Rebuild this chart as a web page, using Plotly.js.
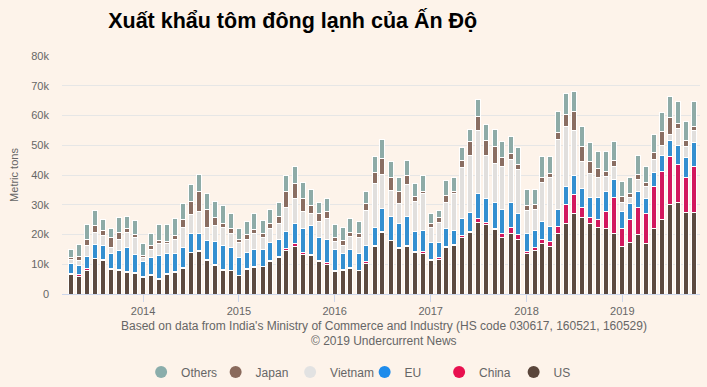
<!DOCTYPE html>
<html>
<head>
<meta charset="utf-8">
<script src="https://cdn.plot.ly/plotly-3.0.1.min.js"></script>
<style>
  html, body { margin: 0; padding: 0; background: #fdf3ea; }
  #chart { width: 707px; height: 387px; }
</style>
</head>
<body>
<div id="chart"></div>
<script>
const months = [
  '2013-04','2013-05','2013-06','2013-07','2013-08','2013-09','2013-10','2013-11','2013-12',
  '2014-01','2014-02','2014-03','2014-04','2014-05','2014-06','2014-07','2014-08','2014-09','2014-10','2014-11','2014-12',
  '2015-01','2015-02','2015-03','2015-04','2015-05','2015-06','2015-07','2015-08','2015-09','2015-10','2015-11','2015-12',
  '2016-01','2016-02','2016-03','2016-04','2016-05','2016-06','2016-07','2016-08','2016-09','2016-10','2016-11','2016-12',
  '2017-01','2017-02','2017-03','2017-04','2017-05','2017-06','2017-07','2017-08','2017-09','2017-10','2017-11','2017-12',
  '2018-01','2018-02','2018-03','2018-04','2018-05','2018-06','2018-07','2018-08','2018-09','2018-10','2018-11','2018-12',
  '2019-01','2019-02','2019-03','2019-04','2019-05','2019-06','2019-07','2019-08','2019-09','2019-10'
];

const us = [6500,5800,7900,11800,11300,8300,8000,7300,7000,5600,
  6200,5000,6500,7100,8600,13900,14300,11300,9600,8000,
  7800,6100,8200,8900,9100,10900,12200,14500,16000,13400,
  12800,10800,10000,7500,7800,8600,7800,10200,16000,20600,
  17900,15400,16000,13900,13700,11100,11700,15600,16200,19000,
  20600,24000,23500,21800,19100,20200,18200,13500,14600,16900,
  16100,20400,23600,27200,25800,23800,22500,21900,20200,16100,
  17200,19900,16900,21900,24900,30100,30700,27300,27300];

const china = [500,700,600,300,200,200,200,200,200,200,
  200,200,300,300,200,200,200,200,200,200,
  200,200,400,200,200,200,500,800,1000,600,
  500,600,600,400,300,200,200,600,200,500,
  200,200,200,500,500,500,500,500,500,500,
  500,1300,500,300,1100,2300,1800,900,1100,1300,
  1700,2300,6400,6200,3200,2000,2400,6000,12400,6000,
  7700,9300,10300,14100,16400,16200,12800,12000,15700];

const eu = [3300,3100,4100,4700,4800,5200,6400,8000,6100,5200,
  6000,7700,6700,6300,6900,6300,5900,6500,7800,8100,
  7700,6100,5400,5900,5700,6100,5600,5800,6600,8100,
  9700,7700,7600,6900,5400,6000,5500,5500,6300,7800,
  8100,8000,10000,6700,7100,5600,5200,6000,4600,6000,
  6400,8600,8200,8800,8200,8100,7200,6000,5600,6200,
  4900,5700,6000,6300,6600,6800,7700,6400,5900,5800,
  5400,5400,4800,5000,5300,5200,6500,6500,7800];

const vietnam = [1200,1600,3700,3900,3300,2000,3600,5200,5700,1400,
  2400,4000,3400,4500,6800,6300,7500,4500,5400,5900,
  4700,5000,4300,5200,4100,4700,5500,8100,8400,5800,
  4000,5300,7100,2800,2800,4500,5600,11800,14600,11300,
  8600,6700,10700,10000,12400,5000,6800,8500,12400,17000,
  19200,20900,14400,13100,14500,14600,14700,7700,7000,13000,
  16300,23500,20400,15400,8800,7800,6700,5300,4200,3000,
  2300,3900,4300,4300,3400,2200,5600,3900,4300];

const japan = [800,1400,1900,2300,1700,3300,2500,1200,1000,700,
  1500,1100,900,1500,2500,4500,6700,5800,2600,1400,
  1500,800,1700,1400,1300,1700,2400,5100,5300,4300,
  2800,2600,2600,1500,1700,1500,1100,2200,3600,5500,
  4300,4300,3000,1700,900,1600,1600,2500,900,2400,
  4400,4800,5100,5700,2900,2000,1600,1500,1700,1900,
  1400,2300,3900,6100,5300,4300,2800,1700,2200,1900,
  1300,1600,1300,2100,4700,5600,1700,2000,1100];

const others = [2500,4000,5100,5000,3900,2900,5100,4100,4700,3800,
  4100,5400,5600,5800,5300,5700,5600,5500,5500,6000,
  5300,3900,4400,5600,4300,4800,4700,5400,5400,5400,
  5400,3900,4300,4200,4500,4700,4300,4300,5400,6200,
  5600,4400,5000,4500,5100,3400,2300,4900,4400,4200,
  4300,5900,5400,5700,5300,5800,5900,5500,5100,7000,
  5900,7000,7100,6800,6500,6100,5700,6500,6200,5100,
  5400,6500,5100,6300,6300,7000,7500,6400,8400];

const seriesNames = ['US','China','EU','Vietnam','Japan','Others'];
const seriesValues = [us, china, eu, vietnam, japan, others];
const barColors = ['#5c4a40','#d2185e','#348fd0','#e1dfdd','#8a6e62','#8eaba7'];
const legendColors = ['#5a463b','#e8104f','#1f8ceb','#e2e2e2','#8a6a5c','#8aadab'];

const font = 'Liberation Sans, Arial, sans-serif';
const traces = [];
seriesNames.forEach((name, i) => {
  traces.push({
    type: 'bar', name: name, x: months.map(m => m + '-01'), y: seriesValues[i],
    marker: { color: barColors[i], line: { color: '#ffffff', width: 1 } },
    showlegend: false, legendgroup: name, hoverinfo: 'x+y+name'
  });
});
seriesNames.forEach((name, i) => {
  traces.push({
    type: 'scatter', mode: 'markers', name: name, x: [null], y: [null],
    marker: { color: legendColors[i], size: 12, symbol: 'circle' },
    legendgroup: name, showlegend: true
  });
});

const layout = {
  width: 707, height: 387,
  paper_bgcolor: '#fdf3ea', plot_bgcolor: '#fdf3ea',
  margin: { l: 62, r: 7, t: 56, b: 93, autoexpand: false },
  barmode: 'stack', bargap: 0.32,
  font: { family: font, color: '#666666', size: 11 },
  title: {
    text: '<b>Xuất khẩu tôm đông lạnh của Ấn Độ</b>',
    font: { family: font, size: 21.5, color: '#000000' },
    x: 0.153, xanchor: 'left', xref: 'container',
    y: 0.948, yanchor: 'middle', yref: 'container'
  },
  xaxis: {
    type: 'date', range: ['2013-02-26', '2019-10-24'],
    tickvals: ['2014-01-01','2015-01-01','2016-01-01','2017-01-01','2018-01-01','2019-01-01'],
    ticktext: ['2014','2015','2016','2017','2018','2019'],
    showgrid: false, showline: true, linecolor: '#ccd6eb', linewidth: 1,
    ticks: 'outside', ticklen: 7, tickcolor: '#ccd6eb',
    tickfont: { size: 11, color: '#666666' }, zeroline: false, fixedrange: true
  },
  yaxis: {
    range: [0, 80000], tickvals: [0,10000,20000,30000,40000,50000,60000,70000,80000],
    ticktext: ['0','10k','20k','30k','40k','50k','60k','70k','80k'],
    showgrid: true, gridcolor: '#e6e6e6', gridwidth: 1, zeroline: false,
    ticklabelstandoff: 12,
    tickfont: { size: 11, color: '#666666' },
    title: { text: 'Metric tons', font: { size: 11, color: '#666666' }, standoff: 10 },
    fixedrange: true
  },
  legend: {
    orientation: 'h', x: 0.124, xanchor: 'left', y: -0.328, yanchor: 'middle',
    entrywidth: 29.5, entrywidthmode: 'pixels',
    traceorder: 'reversed', font: { size: 12, color: '#666666' },
    bgcolor: 'rgba(0,0,0,0)'
  },
  annotations: [
    { text: "Based on data from India's Ministry of Commerce and Industry (HS code 030617, 160521, 160529)",
      xref: 'paper', yref: 'paper', x: 0.504, y: -0.1345, xanchor: 'center', yanchor: 'middle',
      showarrow: false, font: { size: 12, color: '#666666' } },
    { text: '© 2019 Undercurrent News',
      xref: 'paper', yref: 'paper', x: 0.504, y: -0.197, xanchor: 'center', yanchor: 'middle',
      showarrow: false, font: { size: 12, color: '#666666' } }
  ],
  hovermode: 'closest'
};

Plotly.newPlot('chart', traces, layout, { displayModeBar: false, staticPlot: true });
</script>
</body>
</html>
